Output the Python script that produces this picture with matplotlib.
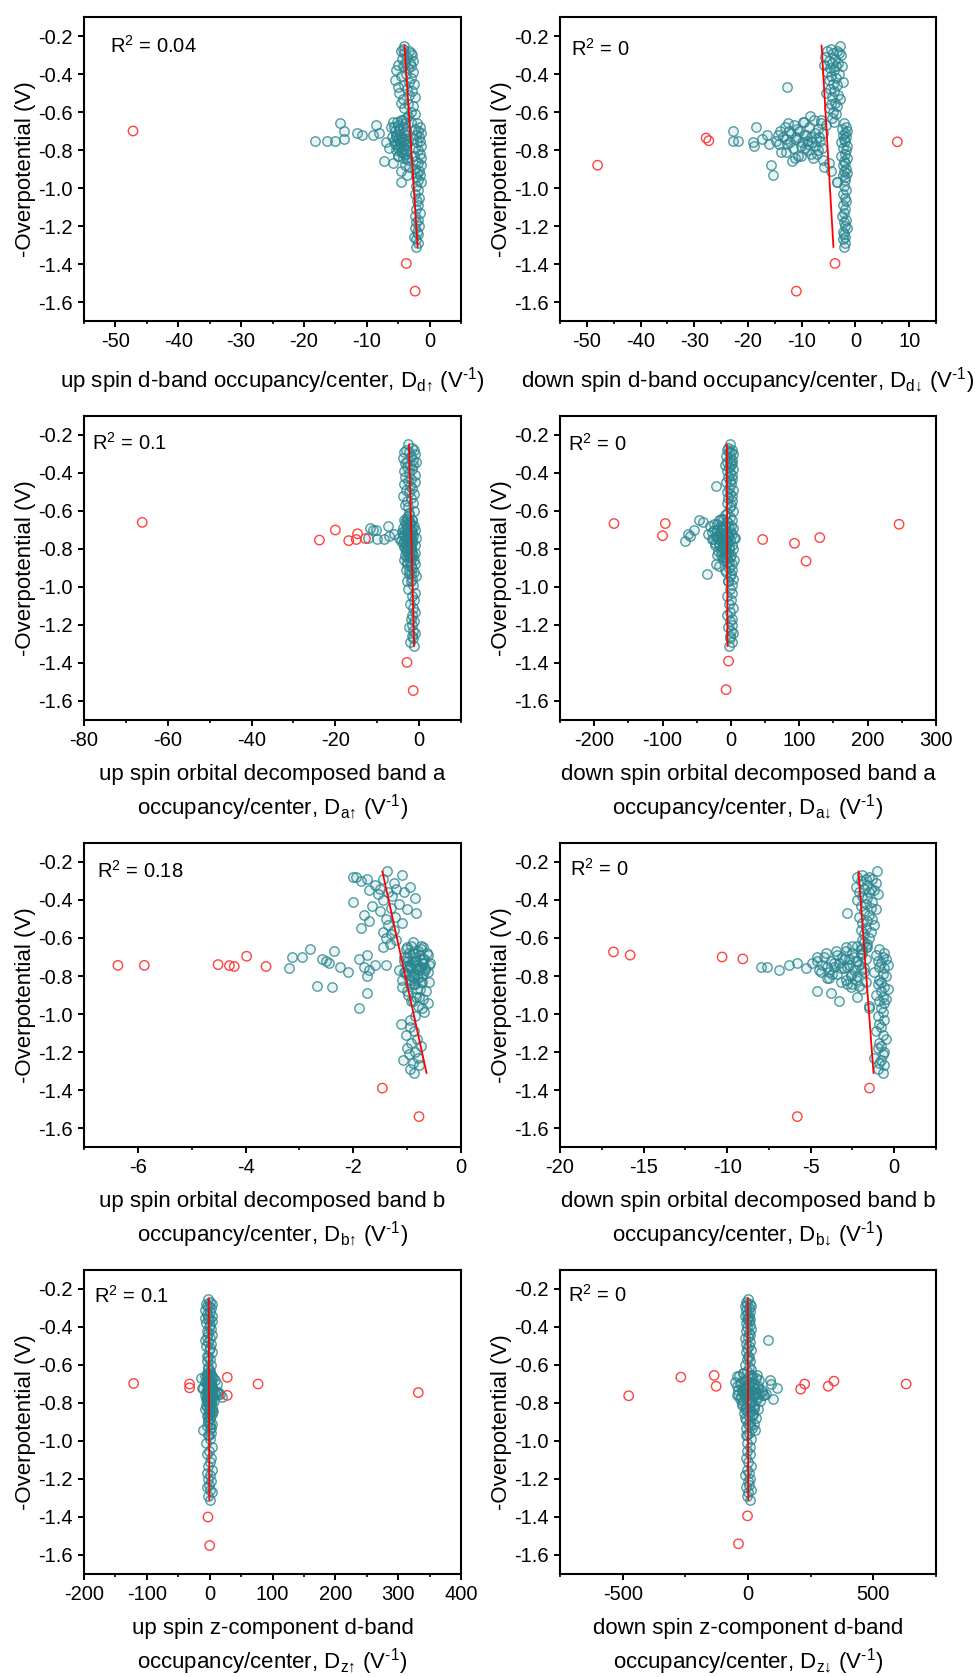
import matplotlib
matplotlib.use("Agg")
import matplotlib.pyplot as plt
from matplotlib.ticker import MultipleLocator, FormatStrFormatter

plt.rcParams['font.family'] = ['Liberation Sans', 'DejaVu Sans']
plt.rcParams['mathtext.fontset'] = 'custom'
plt.rcParams['mathtext.rm'] = 'Liberation Sans'
plt.rcParams['mathtext.it'] = 'Liberation Sans:italic'
plt.rcParams['mathtext.bf'] = 'Liberation Sans:bold'
plt.rcParams['axes.unicode_minus'] = False

# ---------------- data ----------------
# shared overpotential values (V) of the fitted samples:
# upper column, lower column, wing group, dense wing core
eta_upper = [-0.25, -0.27, -0.28, -0.28, -0.29, -0.29, -0.30, -0.31, -0.32, -0.33,
             -0.34, -0.34, -0.35, -0.36, -0.36, -0.37, -0.38, -0.39, -0.40, -0.41,
             -0.42, -0.43, -0.44, -0.45, -0.46, -0.47, -0.48, -0.49, -0.50, -0.51,
             -0.52, -0.53, -0.55, -0.56, -0.57, -0.58, -0.60, -0.61, -0.63, -0.65]
eta_lower = [-0.66, -0.68, -0.69, -0.70, -0.71, -0.72, -0.73, -0.74, -0.75, -0.76,
             -0.78, -0.79, -0.80, -0.82, -0.83, -0.84, -0.86, -0.87, -0.88, -0.90,
             -0.91, -0.92, -0.93, -0.94, -0.96, -0.97, -0.99, -1.01, -1.03, -1.05,
             -1.07, -1.09, -1.11, -1.13, -1.15, -1.17, -1.18, -1.20, -1.21, -1.23,
             -1.24, -1.26, -1.27, -1.29, -1.31]
eta_wing = [-0.62, -0.64, -0.65, -0.66, -0.67, -0.68, -0.69, -0.70, -0.70, -0.71,
            -0.71, -0.72, -0.72, -0.73, -0.73, -0.74, -0.74, -0.75, -0.75, -0.75,
            -0.76, -0.76, -0.77, -0.77, -0.78, -0.78, -0.79, -0.80, -0.81, -0.82,
            -0.83, -0.84, -0.85, -0.86, -0.87, -0.88, -0.89, -0.91, -0.93, -0.97]
eta_core = [-0.64, -0.65, -0.66, -0.67, -0.68, -0.68, -0.69, -0.70, -0.70, -0.71,
            -0.72, -0.72, -0.73, -0.73, -0.74, -0.74, -0.75, -0.75, -0.76, -0.76,
            -0.77, -0.77, -0.78, -0.79, -0.79, -0.80, -0.81, -0.82, -0.83, -0.84]
eta = eta_upper + eta_lower + eta_wing + eta_core

# descriptor values (V^-1) for the same samples, one list per panel
x_d_up = [-4.0, -4.3, -3.2, -4.6, -3.0, -4.1, -2.8, -3.6, -4.4, -2.6,
          -3.9, -3.1, -5.0, -2.9, -4.2, -3.4, -5.3, -2.7, -3.8, -4.5,
          -3.0, -5.5, -3.3, -2.5, -4.0, -5.0, -3.6, -2.8, -4.8, -3.2,
          -2.4, -4.2, -4.6, -3.5, -2.6, -4.1, -3.0, -2.3, -3.8, -2.9,
          -2.0, -1.6, -2.4, -1.8, -1.4, -2.2, -1.7, -2.6, -1.5, -2.0,
          -1.3, -2.3, -1.9, -1.6, -2.5, -1.4, -2.1, -1.8, -1.3, -2.4,
          -1.7, -2.0, -1.5, -2.2, -1.8, -1.4, -2.1, -1.9, -2.3, -1.7,
          -2.0, -1.8, -2.2, -1.6, -2.4, -1.9, -2.1, -1.7, -2.3, -2.0,
          -1.8, -2.5, -2.1, -1.9, -2.2,
          -3.5, -4.2, -5.2, -14.2, -8.5, -5.6, -4.8, -13.7, -3.8, -11.5,
          -8.1, -10.7, -9.0, -4.5, -5.3, -13.6, -3.9, -18.3, -16.3, -15.0,
          -6.9, -4.7, -5.5, -3.6, -4.9, -4.2, -5.1, -3.7, -4.4, -4.0,
          -5.0, -3.8, -3.4, -7.2, -5.8, -3.9, -3.3, -4.5, -3.6, -4.6,
          -4.6, -5.8, -3.9, -5.1, -4.3, -6.2, -3.7, -5.5, -4.8, -4.1,
          -5.3, -3.8, -4.9, -6.0, -4.4, -5.0, -3.6, -5.6, -4.2, -4.7,
          -5.2, -3.9, -4.5, -6.4, -4.0, -5.4, -4.6, -3.7, -5.0, -4.3]
x_d_dn = [-2.8, -4.6, -3.5, -5.2, -3.0, -4.2, -2.6, -5.6, -3.8, -4.9,
          -3.2, -4.4, -5.9, -3.6, -2.5, -4.8, -4.0, -5.3, -3.1, -4.5,
          -3.7, -5.0, -2.4, -4.1, -3.4, -12.7, -4.7, -3.9, -5.4, -3.3,
          -4.3, -2.9, -3.8, -4.6, -3.5, -5.0, -4.1, -3.6, -4.4, -3.9,
          -2.2, -1.8, -2.5, -1.6, -2.0, -2.4, -1.7, -2.1, -1.9, -2.6,
          -1.5, -2.3, -1.8, -2.0, -2.7, -1.6, -2.2, -1.9, -2.4, -1.7,
          -2.1, -1.5, -2.3, -1.9, -2.0, -3.4, -2.2, -1.8, -2.4, -2.0,
          -1.7, -2.3, -1.9, -2.1, -2.5, -1.8, -2.2, -2.0, -1.6, -2.4,
          -2.1, -1.9, -2.3, -2.0, -2.2,
          -8.4, -6.5, -9.5, -12.6, -5.5, -18.6, -10.8, -22.7, -14.0, -7.5,
          -12.0, -16.5, -9.2, -13.5, -6.8, -17.4, -11.0, -22.8, -21.9, -14.8,
          -19.0, -8.0, -12.8, -16.0, -18.8, -10.2, -6.2, -9.0, -13.8, -7.2,
          -10.2, -11.2, -6.0, -11.8, -5.0, -15.8, -5.8, -4.5, -15.3, -3.4,
          -7.8, -9.8, -6.4, -11.5, -8.6, -13.2, -7.0, -10.5, -12.4, -6.0,
          -9.6, -14.5, -8.2, -11.0, -7.4, -13.0, -9.0, -6.6, -12.2, -10.0,
          -8.8, -14.2, -7.6, -11.6, -9.4, -6.9, -12.9, -8.3, -10.6, -7.9]
x_a_up = [-2.6, -1.8, -3.2, -1.2, -2.4, -3.6, -1.0, -2.0, -3.9, -1.5,
          -2.8, -0.8, -3.4, -2.2, -1.4, -3.0, -1.7, -3.7, -2.5, -1.1,
          -3.3, -1.9, -2.7, -0.9, -3.5, -2.1, -1.6, -3.1, -2.3, -1.3,
          -3.8, -2.0, -2.9, -1.5, -3.4, -2.6, -1.2, -2.4, -3.0, -1.8,
          -2.5, -1.2, -3.0, -0.9, -1.8, -2.2, -1.4, -0.8, -2.7, -1.6,
          -1.1, -2.4, -1.9, -0.9, -1.5, -2.1, -1.3, -2.8, -1.0, -1.7,
          -2.3, -1.2, -1.9, -0.8, -1.6, -2.0, -1.4, -2.6, -1.1, -1.8,
          -1.3, -2.2, -1.5, -0.9, -1.7, -2.0, -1.2, -1.6, -2.3, -1.4,
          -1.0, -1.8, -1.5, -2.1, -1.3,
          -2.5, -3.0, -1.8, -3.4, -2.2, -7.5, -11.8, -11.0, -10.2, -4.2,
          -2.8, -6.0, -3.6, -7.2, -2.1, -12.3, -4.8, -10.0, -8.4, -3.2,
          -4.4, -2.6, -3.8, -1.9, -3.1, -2.4, -3.5, -2.0, -2.9, -1.7,
          -3.3, -2.5, -1.6, -3.6, -2.2, -2.8, -1.9, -3.1, -2.4, -3.0,
          -2.9, -3.6, -2.2, -3.1, -1.8, -2.6, -3.8, -2.0, -3.3, -2.7,
          -1.6, -3.0, -2.4, -3.5, -1.9, -2.8, -3.2, -2.1, -2.5, -3.7,
          -1.7, -2.9, -2.3, -3.4, -2.0, -2.6, -3.1, -1.8, -2.4, -2.8]
x_a_dn = [-1, -4, 2, -6, 0, -3, 3, -7, -1, 1,
          -5, -2, 2, -8, 0, -3, 3, -6, -1, 1,
          -4, 2, -2, -7, 0, -22, -3, 3, -5, -1,
          1, -4, 2, -6, 0, -2, 3, -5, -1, 1,
          -5, 0, 3, -8, -2, 2, -4, 4, -1, -6,
          1, -3, 3, -9, 0, -2, 4, -5, 1, -3,
          2, -7, 0, -1, 3, -4, 1, -2, 2, -6,
          0, -3, 3, -1, -5, 2, -2, 1, -4, 0,
          3, -2, -1, 1, -3,
          -8, -14, -46, -41, -20, -30, -11, -54, -25, -16,
          -6, -63, -33, -60, -21, 6, -12, -28, -9, -18,
          -67, -14, -5, -24, -10, -17, -7, -13, -19, -4,
          -15, -9, -6, -11, -3, -22, -17, -8, -35, -4,
          -12, -18, -6, -25, -9, -15, -3, -20, -11, -28,
          -7, -16, -22, -4, -13, -19, -8, -26, -10, -14,
          -5, -17, -23, -9, -12, -3, -15, -7, -20, -11]
x_b_up = [-1.37, -1.10, -2.00, -1.95, -1.75, -1.45, -1.85, -1.25, -1.60, -0.95,
          -1.50, -1.20, -1.70, -1.35, -1.05, -1.55, -1.28, -0.85, -1.45, -2.00,
          -1.15, -1.65, -1.30, -1.00, -1.50, -0.84, -1.80, -1.22, -1.40, -1.70,
          -1.10, -1.35, -1.85, -1.25, -1.45, -1.30, -1.40, -1.20, -1.32, -1.45,
          -0.75, -0.90, -0.62, -1.00, -0.70, -0.85, -0.58, -0.95, -0.78, -0.66,
          -1.05, -0.82, -0.72, -0.92, -0.60, -0.88, -1.10, -0.76, -0.65, -0.98,
          -0.84, -0.70, -0.93, -0.62, -0.80, -0.72, -0.68, -0.86, -0.95, -1.12,
          -0.95, -0.88, -1.02, -0.82, -0.92, -0.75, -1.00, -0.85, -0.96, -0.80,
          -1.08, -0.90, -0.78, -0.95, -0.88,
          -0.90, -0.75, -1.00, -2.80, -2.35, -0.85, -1.75, -3.14, -2.95, -2.58,
          -1.90, -2.50, -1.05, -2.45, -0.70, -1.60, -1.40, -1.80, -0.95, -2.25,
          -3.20, -0.80, -1.70, -1.15, -2.10, -0.62, -1.02, -1.75, -0.88, -1.10,
          -0.72, -0.95, -2.67, -2.40, -0.82, -1.00, -1.74, -0.78, -0.90, -1.90,
          -0.92, -0.70, -1.02, -0.80, -0.64, -0.96, -0.76, -0.88, -1.06, -0.68,
          -0.84, -0.98, -0.72, -0.90, -0.60, -0.86, -1.00, -0.74, -0.82, -0.94,
          -0.66, -0.78, -1.04, -0.88, -0.70, -0.92, -0.80, -0.97, -0.74, -0.86]
x_b_dn = [-1.04, -1.9, -1.5, -2.2, -1.3, -1.7, -2.0, -1.1, -1.6, -2.3,
          -1.4, -1.8, -1.2, -2.1, -1.5, -1.0, -1.9, -1.6, -2.2, -1.3,
          -1.7, -2.0, -1.4, -1.1, -1.8, -2.83, -1.5, -2.1, -1.3, -1.6,
          -1.9, -1.2, -1.7, -2.0, -1.4, -1.8, -1.5, -1.9, -1.6, -1.7,
          -0.9, -0.6, -1.1, -0.7, -0.5, -1.0, -0.8, -0.4, -0.9, -0.6,
          -1.2, -0.7, -0.5, -0.9, -0.8, -1.0, -0.6, -0.4, -0.8, -1.1,
          -0.7, -0.5, -0.9, -0.6, -1.5, -0.8, -0.7, -1.0, -0.6, -0.9,
          -0.8, -1.1, -0.7, -0.5, -0.9, -0.8, -1.0, -0.6, -0.7, -1.2,
          -0.8, -0.9, -0.6, -1.0, -0.7,
          -1.8, -2.5, -1.6, -2.0, -2.9, -1.9, -3.4, -2.4, -4.2, -1.7,
          -3.0, -4.6, -2.2, -5.8, -3.6, -6.3, -2.7, -8.0, -7.6, -4.0,
          -5.3, -3.2, -6.9, -2.0, -4.4, -1.8, -3.7, -2.6, -3.9, -2.3,
          -1.7, -2.8, -2.1, -2.6, -1.9, -4.6, -3.8, -2.2, -3.3, -1.5,
          -2.2, -2.9, -1.9, -3.5, -2.5, -4.1, -2.0, -3.1, -4.6, -2.7,
          -3.8, -2.3, -4.9, -3.3, -2.1, -4.3, -2.8, -3.6, -1.8, -3.0,
          -4.5, -2.4, -3.9, -2.6, -3.4, -2.2, -4.0, -2.9, -3.2, -2.5]
x_z_up = [-3, 1, -6, 3, -1, -5, 2, -8, 0, -4,
          4, -2, -7, 1, -3, 3, -6, 0, -1, 2,
          -5, -2, 4, -4, 1, -8, -3, 2, -6, 0,
          -1, 3, -4, -2, 1, -5, 2, -3, 0, -1,
          -4, 2, -7, 0, 3, -2, -5, 1, -1, 4,
          -6, 2, -3, 0, -8, 3, -1, -4, 1, -2,
          4, -5, 0, -10, 2, -3, 1, -6, 3, -1,
          -4, 2, 0, -2, 4, -5, 1, -3, 2, -1,
          -4, 0, 3, -2, 1,
          -2, 1, -4, 3, -14, -1, 2, -5, 0, 4,
          -3, -12, 1, -2, 3, 12, -6, 17, 0, 14,
          -1, 2, -4, 1, -3, 0, 3, -2, 1, -5,
          2, -1, 0, 3, -3, 1, -2, 0, 2, -1,
          -4, 2, -8, 5, -2, 8, -6, 0, 11, -3,
          3, -10, 6, -1, 14, -5, 1, 9, -7, 4,
          -2, 19, 0, -4, 7, 2, -6, 3, -1, 5]
x_z_dn = [0, -8, 6, -4, 10, -10, 3, -6, 8, -2,
          5, -12, 1, 9, -5, 4, -9, 7, -3, 11,
          -7, 2, 6, -1, -11, 80, 8, -6, 3, -4,
          10, -8, 0, 5, -3, 7, -10, 2, -5, 6,
          4, -6, 10, -2, 14, -9, 6, 0, -12, 8,
          -4, 12, 2, -8, 24, -3, 20, 5, -10, 9,
          -1, 7, -6, 28, 3, -9, 11, -2, 6, -5,
          9, -7, 1, 12, -4, 5, -10, 8, -1, 3,
          -6, 10, 0, -3, 6,
          10, -20, 35, -42, 15, 88, -53, 93, -30, 40,
          -12, 117, 22, -38, 55, -25, 30, 72, -15, 45,
          60, -45, 18, -28, 101, 35, -18, 12, -22, 25,
          -10, 8, -15, 20, 14, 30, -8, 24, 16, -5,
          -20, 15, -35, 30, -10, 45, -28, 5, 22, -42,
          38, -15, 10, -25, 55, -5, 28, -38, 18, 62,
          -12, 35, -30, 8, 48, -22, 25, -8, 40, 12]

# outliers (red) per panel
out_d_up_x = [-47.2, -3.7, -2.3]
out_d_up_y = [-0.70, -1.397, -1.543]
out_d_dn_x = [-48.0, -27.8, -27.3, 7.8, -3.8, -11.0]
out_d_dn_y = [-0.88, -0.737, -0.751, -0.757, -1.397, -1.543]
out_a_up_x = [-66.1, -23.8, -20.0, -16.8, -14.7, -15.0, -12.8, -2.9, -1.4]
out_a_up_y = [-0.66, -0.753, -0.70, -0.756, -0.72, -0.75, -0.745, -1.397, -1.545]
out_a_dn_x = [-171, -96, -100, 46.5, 93, 110, 130, 246, -3.4, -7]
out_a_dn_y = [-0.666, -0.666, -0.73, -0.75, -0.77, -0.864, -0.74, -0.67, -1.39, -1.54]
out_b_up_x = [-6.37, -5.88, -4.51, -4.30, -4.21, -3.98, -3.62, -1.46, -0.78]
out_b_up_y = [-0.744, -0.744, -0.74, -0.745, -0.75, -0.696, -0.75, -1.39, -1.54]
out_b_dn_x = [-16.8, -15.8, -10.3, -9.06, -1.48, -5.8]
out_b_dn_y = [-0.673, -0.69, -0.70, -0.71, -1.39, -1.54]
out_z_up_x = [-121, -32, -32, 28, 28, 77, 332, -2.7, 0]
out_z_up_y = [-0.697, -0.70, -0.72, -0.665, -0.76, -0.70, -0.745, -1.40, -1.55]
out_z_dn_x = [-476, -268, -135, -127, 210, 226, 320, 343, 631, -2, -38]
out_z_dn_y = [-0.762, -0.664, -0.655, -0.712, -0.727, -0.70, -0.712, -0.685, -0.70, -1.394, -1.541]

# fitted lines (end points)
fit_y = [-0.25, -1.31]
fit_d_up_x = [-4.0, -1.9]
fit_d_dn_x = [-6.3, -4.1]
fit_a_up_x = [-2.4, -1.2]
fit_a_dn_x = [-6.0, -5.0]
fit_b_up_x = [-1.46, -0.64]
fit_b_dn_x = [-2.14, -1.24]
fit_z_up_x = [-1.5, -0.5]
fit_z_dn_x = [-1.0, 1.0]

r2_values = ["0.04", "0", "0.1", "0", "0.18", "0", "0.1", "0"]

SUP = " (V$^{\\mathrm{\u2010}\\mathrm{1}}$)"
xlabels = [
    "up spin d-band occupancy/center, D$_{\\mathrm{d↑}}$" + SUP,
    "down spin d-band occupancy/center, D$_{\\mathrm{d↓}}$" + SUP,
    "up spin orbital decomposed band a\noccupancy/center, D$_{\\mathrm{a↑}}$" + SUP,
    "down spin orbital decomposed band a\noccupancy/center, D$_{\\mathrm{a↓}}$" + SUP,
    "up spin orbital decomposed band b\noccupancy/center, D$_{\\mathrm{b↑}}$" + SUP,
    "down spin orbital decomposed band b\noccupancy/center, D$_{\\mathrm{b↓}}$" + SUP,
    "up spin z-component d-band\noccupancy/center, D$_{\\mathrm{z↑}}$" + SUP,
    "down spin z-component d-band\noccupancy/center, D$_{\\mathrm{z↓}}$" + SUP,
]

panels = [
    (x_d_up, out_d_up_x, out_d_up_y, fit_d_up_x, (-55, 5), 10, 5),
    (x_d_dn, out_d_dn_x, out_d_dn_y, fit_d_dn_x, (-55, 15), 10, 5),
    (x_a_up, out_a_up_x, out_a_up_y, fit_a_up_x, (-80, 10), 20, 10),
    (x_a_dn, out_a_dn_x, out_a_dn_y, fit_a_dn_x, (-250, 300), 100, 50),
    (x_b_up, out_b_up_x, out_b_up_y, fit_b_up_x, (-7, 0), 2, 1),
    (x_b_dn, out_b_dn_x, out_b_dn_y, fit_b_dn_x, (-20, 2.5), 5, 2.5),
    (x_z_up, out_z_up_x, out_z_up_y, fit_z_up_x, (-200, 400), 100, 50),
    (x_z_dn, out_z_dn_x, out_z_dn_y, fit_z_dn_x, (-750, 750), 500, 250),
]

# ---------------- layout ----------------
W, H = 975, 1677
fig = plt.figure(figsize=(W / 100, H / 100), dpi=100)
col_left = [84, 560]
col_width = [377, 376]
row_top = [17, 416, 843, 1270]
ax_h = 304
r2_pos = [(0.069, 0.905), (0.03, 0.895), (0.022, 0.912), (0.021, 0.91),
          (0.034, 0.91), (0.026, 0.915), (0.027, 0.915), (0.021, 0.918)]

teal_face = (0.20, 0.56, 0.60, 0.10)
teal_edge = (0.16, 0.52, 0.56, 0.80)
red_edge = (1.0, 0.22, 0.22, 0.95)

for i, (xs, ox, oy, fx, xlim, maj, mnr) in enumerate(panels):
    r, c = divmod(i, 2)
    left = col_left[c] / W
    bottom = 1 - (row_top[r] + ax_h) / H
    ax = fig.add_axes([left, bottom, col_width[c] / W, ax_h / H])
    n = min(len(xs), len(eta))
    ax.scatter(xs[:n], eta[:n], s=46, facecolors=[teal_face], edgecolors=[teal_edge],
               linewidths=1.0, zorder=2)
    ax.scatter(ox, oy, s=46, facecolors='none', edgecolors=[red_edge],
               linewidths=1.0, zorder=3)
    ax.plot(fx, fit_y, color='#ff0000', lw=1.3, zorder=4)

    ax.set_xlim(*xlim)
    ax.set_ylim(-1.7, -0.1)
    ax.xaxis.set_major_locator(MultipleLocator(maj))
    ax.xaxis.set_minor_locator(MultipleLocator(mnr))
    ax.yaxis.set_major_locator(MultipleLocator(0.2))
    ax.yaxis.set_major_formatter(FormatStrFormatter('%.1f'))
    ax.xaxis.set_major_formatter(FormatStrFormatter('%g'))
    ax.tick_params(axis='both', which='major', direction='out', length=4,
                   width=1.4, labelsize=14.5, pad=4)
    ax.tick_params(axis='x', which='minor', direction='out', length=2.5, width=1.2)
    for sp in ax.spines.values():
        sp.set_linewidth(1.5)
    ax.set_ylabel("-Overpotential (V)", fontsize=16, labelpad=1.5)
    ax.set_xlabel(xlabels[i], fontsize=16, labelpad=10, linespacing=1.3)
    tx, ty = r2_pos[i]
    ax.text(tx, ty, "R$^{\\mathrm{2}}$ = " + r2_values[i], transform=ax.transAxes,
            fontsize=14.5, ha='left', va='center')

fig.savefig("out.png", dpi=100)
